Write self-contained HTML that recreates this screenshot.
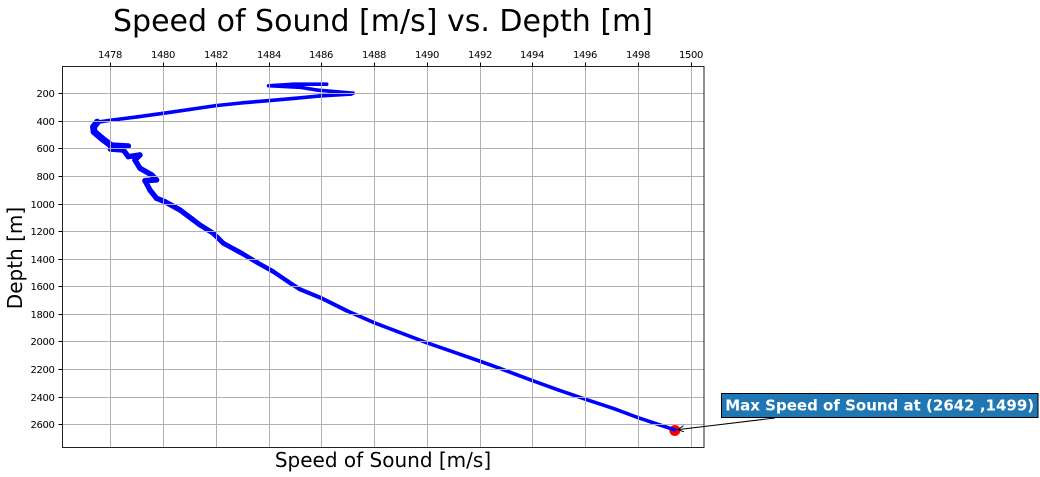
<!DOCTYPE html>
<html>
<head>
<meta charset="utf-8">
<style>
html,body{margin:0;padding:0;background:#fff;width:1040px;height:477px;overflow:hidden}
svg{display:block}
text{font-family:"DejaVu Sans","Liberation Sans",sans-serif;fill:#000}
</style>
</head>
<body>
<svg id="chart" xmlns="http://www.w3.org/2000/svg" width="1040" height="477" viewBox="0 0 1040 477">
  <rect x="0" y="0" width="1040" height="477" fill="#fff"/>
  <text x="383" y="31" font-size="30" text-anchor="middle">Speed of Sound [m/s] vs. Depth [m]</text>
  <text x="383" y="467" font-size="20" text-anchor="middle">Speed of Sound [m/s]</text>
  <text x="22" y="258" font-size="20" text-anchor="middle" transform="rotate(-90 22 258)">Depth [m]</text>
  <g id="series-layer"></g>
  <g id="grid-layer"></g>
  <g id="tick-layer"></g>
  <rect x="62.5" y="66.5" width="641.5" height="381" fill="none" stroke="#222" stroke-width="1"/>
  <g id="annotation-layer">
    <line x1="775" y1="418" x2="678" y2="429.6" stroke="#000" stroke-width="1"/>
    <path d="M683.5 425.6 L678 429.6 L684 431.8" fill="none" stroke="#000" stroke-width="1"/>
    <rect x="721.5" y="393.5" width="316.5" height="24" fill="#1f77b4" stroke="#000" stroke-width="1"/>
    <text x="879.7" y="410.5" font-size="15" font-weight="700" text-anchor="middle" style="fill:#fff">Max Speed of Sound at (2642 ,1499)</text>
  </g>
</svg>
<script>
const xTickValues = [1478,1480,1482,1484,1486,1488,1490,1492,1494,1496,1498,1500];
const yTickValues = [200,400,600,800,1000,1200,1400,1600,1800,2000,2200,2400,2600];
const speedValues = [1486.2,1484.9,1484.0,1485.19,1485.82,1486.6,1487.2,1487.12,1485.94,1485.0,1483.98,1483.0,1482.0,1481.0,1480.0,1479.0,1478.0,1477.5,1477.36,1477.38,1477.67,1478.0,1478.68,1478.0,1478.49,1478.68,1479.12,1478.93,1479.12,1479.57,1479.75,1479.31,1479.5,1479.75,1480.07,1480.64,1481.14,1481.4,1481.9,1482.28,1482.98,1483.61,1484.18,1484.93,1485.19,1486.01,1486.96,1488.0,1488.97,1489.99,1491.0,1491.99,1492.75,1494.0,1494.98,1496.02,1497.07,1498.01,1498.84,1499.4];
const depthValues = [135,135,146,157,177,190,200,206,220,237,254,270,290,318,346,372,396,410,445,479,527,575,583,605,612,660,648,684,744,793,829,834,902,962,987,1047,1119,1156,1216,1288,1361,1433,1494,1591,1622,1687,1777,1864,1935,2009,2076,2142,2194,2284,2352,2420,2486,2553,2606,2642];
const maxSpeed = 1499.4;
const maxDepth = 2642;

const NS = 'http://www.w3.org/2000/svg';
const plotLeft = 62.5, plotRight = 704, plotTop = 66.5, plotBottom = 447.5;
function xScale(v){ return 110.4 + (v - 1478) * 26.375; }
function yScale(v){ return 93.2 + (v - 200) * 0.1379; }
function widthForDepth(d){
  if (d < 400) return 3.6;
  if (d < 560) return 6.8;
  if (d < 1000) return 5.4;
  if (d < 1700) return 5.4 - (d - 1000) * 0.002;
  return 3.6;
}
function make(tag, attrs){
  const el = document.createElementNS(NS, tag);
  for (const k in attrs) el.setAttribute(k, attrs[k]);
  return el;
}
const seriesLayer = document.getElementById('series-layer');
const gridLayer = document.getElementById('grid-layer');
const tickLayer = document.getElementById('tick-layer');

const marker = make('circle', {cx: xScale(maxSpeed), cy: yScale(maxDepth) + 0.5, r: 5.5, fill: '#ff0000'});


seriesLayer.appendChild(marker);

for (let i = 0; i < speedValues.length - 1; i++) {
  const seg = make('line', {
    x1: xScale(speedValues[i]), y1: yScale(depthValues[i]),
    x2: xScale(speedValues[i + 1]), y2: yScale(depthValues[i + 1]),
    stroke: '#0000ff', 'stroke-linecap': 'round',
    'stroke-width': widthForDepth(depthValues[i])
  });
  
  
  seriesLayer.appendChild(seg);
}

xTickValues.forEach(function(v){
  const x = Math.round(xScale(v)) + 0.5;
  const grid = make('line', {x1: x, x2: x, y1: plotTop, y2: plotBottom, stroke: '#b0b0b0', 'stroke-width': 1});
  
  
  gridLayer.appendChild(grid);
  const tick = make('line', {x1: x, x2: x, y1: plotTop - 4, y2: plotTop, stroke: '#000', 'stroke-width': 1});
  
  
  tickLayer.appendChild(tick);
  const label = make('text', {x: x - 0.5, y: 58, 'font-size': 10, 'text-anchor': 'middle', 'letter-spacing': '-0.36'});
  
  
  label.textContent = v;
  tickLayer.appendChild(label);
});

yTickValues.forEach(function(v){
  const y = Math.round(yScale(v)) + 0.5;
  const grid = make('line', {x1: plotLeft, x2: plotRight, y1: y, y2: y, stroke: '#b0b0b0', 'stroke-width': 1});
  
  
  gridLayer.appendChild(grid);
  const tick = make('line', {x1: plotLeft - 4, x2: plotLeft, y1: y, y2: y, stroke: '#000', 'stroke-width': 1});
  
  
  tickLayer.appendChild(tick);
  const label = make('text', {x: plotLeft - 8, y: y + 3.5, 'font-size': 10, 'text-anchor': 'end', 'letter-spacing': '-0.36'});
  
  
  label.textContent = v;
  tickLayer.appendChild(label);
});
</script>
</body>
</html>
